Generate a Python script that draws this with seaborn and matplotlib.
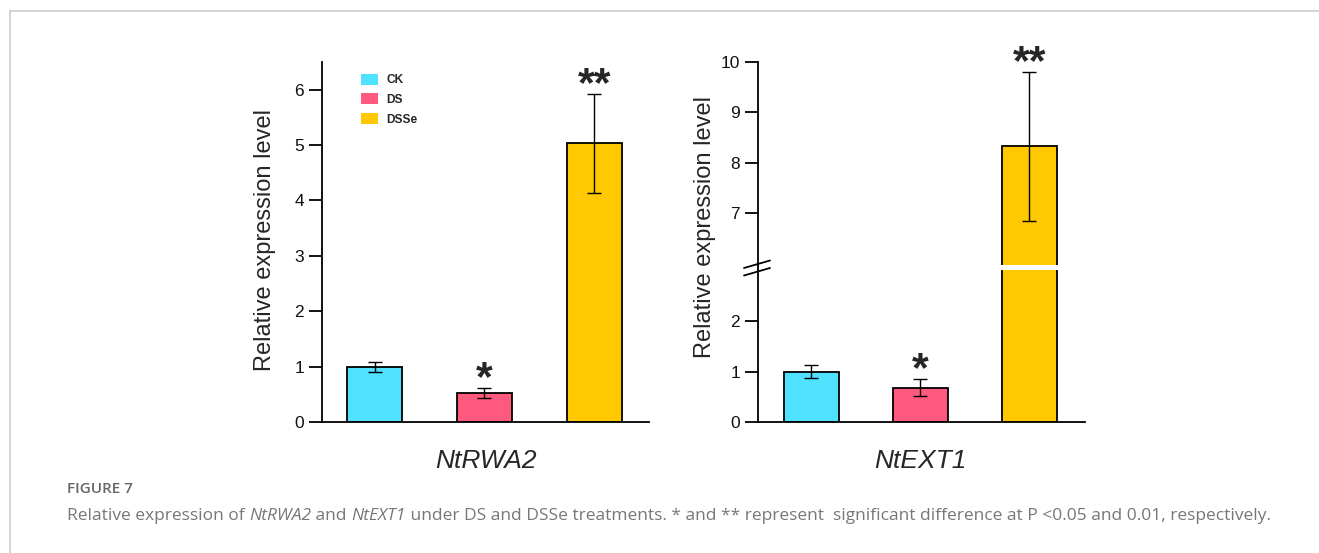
import numpy as np
import pandas as pd
import matplotlib
matplotlib.use("Agg")
import matplotlib.pyplot as plt
import seaborn as sns
from matplotlib.patches import Patch
from matplotlib.lines import Line2D

# Treatments and bar colours
treatments = ["CK", "DS", "DSSe"]
colors = ["#50E1FF", "#FF5A7E", "#FFC800"]

# NtRWA2 relative expression (mean, error)
rwa2_mean = [1.00, 0.52, 5.03]
rwa2_err = [0.09, 0.09, 0.90]
rwa2_marks = ["", "*", "**"]

# NtEXT1 relative expression (mean, error)
ext1_mean = [1.00, 0.68, 8.33]
ext1_err = [0.12, 0.17, 1.48]
ext1_marks = ["", "*", "**"]

genes = ["NtRWA2", "NtEXT1"]
ylabel = "Relative expression level"
fig_label = "FIGURE 7"
# caption pieces: (text, italic?)
caption_parts = [
    ("Relative expression of ", False),
    ("NtRWA2", True),
    (" and ", False),
    ("NtEXT1", True),
    (" under DS and DSSe treatments. * and ** represent  significant difference at "
     "P <0.05 and 0.01, respectively.", False),
]

sns.set_theme(style="white")
plt.rcParams["font.family"] = ["Liberation Sans", "DejaVu Sans"]

W, H = 1319, 553
fig = plt.figure(figsize=(W / 100, H / 100), dpi=100)
renderer = fig.canvas.get_renderer()


def px_rect(x0, y0, x1, y1):
    """Pixel box (top-left origin) -> figure-fraction rectangle."""
    return [x0 / W, 1 - y1 / H, (x1 - x0) / W, (y1 - y0) / H]


SPINE_W = 1.3
TICK_LEN = 9.4


def style_axes(ax, bottom=True):
    ax.set_facecolor("none")
    for side in ["right", "top", "bottom", "left"]:
        ax.spines[side].set_visible(False)
    ax.spines["left"].set_visible(True)
    ax.spines["left"].set_linewidth(SPINE_W)
    ax.spines["left"].set_color("black")
    if bottom:
        ax.spines["bottom"].set_visible(True)
        ax.spines["bottom"].set_linewidth(SPINE_W)
        ax.spines["bottom"].set_color("black")
    ax.set_xticks([])
    ax.set_xlabel("")
    ax.set_ylabel("")
    ax.tick_params(axis="y", direction="out", length=TICK_LEN, width=SPINE_W,
                   color="black", labelsize=12.5, labelcolor="#111111", pad=3.5, left=True)


def draw_bars(ax, means, errs):
    df = pd.DataFrame({"treatment": treatments, "level": means})
    sns.barplot(data=df, x="treatment", y="level", hue="treatment", palette=colors,
                width=0.5, edgecolor="black", linewidth=1.3, saturation=1,
                errorbar=None, legend=False, ax=ax)
    ax.errorbar(range(len(means)), means, yerr=errs, fmt="none", ecolor="black",
                elinewidth=1.0, capsize=4.8, capthick=1.0, zorder=5)


def draw_mark(ax, i, top, s):
    ax.annotate(s, xy=(i, top), xytext=(0, -1.5), textcoords="offset points",
                ha="center", va="baseline", fontsize=31, fontweight="bold",
                annotation_clip=False)


# ---- Left panel: NtRWA2 ----
axL = fig.add_axes(px_rect(322, 62, 649, 422))
draw_bars(axL, rwa2_mean, rwa2_err)
for i, (m, e, s) in enumerate(zip(rwa2_mean, rwa2_err, rwa2_marks)):
    if s:
        draw_mark(axL, i, m + e, s)
style_axes(axL)
axL.set_xlim(-0.48, 2.5)
axL.set_ylim(0, 6.5)
axL.set_yticks(range(0, 7))

handles = [Patch(facecolor=c, edgecolor="none", label=t) for t, c in zip(treatments, colors)]
axL.legend(handles=handles, loc="upper left", bbox_to_anchor=(0.119, 0.967),
           frameon=False, prop={"weight": "bold", "size": 8.6}, handlelength=1.45,
           handleheight=1.0, handletextpad=0.7, labelspacing=0.6, borderpad=0,
           borderaxespad=0)

# ---- Right panel: NtEXT1 with broken y axis ----
axLo = fig.add_axes(px_rect(758, 270, 1085, 422))
axHi = fig.add_axes(px_rect(758, 62, 1085, 265), sharex=axLo)
for ax in (axLo, axHi):
    draw_bars(ax, ext1_mean, ext1_err)
style_axes(axLo)
style_axes(axHi, bottom=False)
axLo.set_xlim(-0.49, 2.51)
axLo.set_ylim(0, 3.01)
axLo.set_yticks([0, 1, 2])
axHi.set_ylim(5.98, 10)
axHi.set_yticks([7, 8, 9, 10])
axHi.tick_params(axis="x", bottom=False, labelbottom=False)
for i, (m, e, s) in enumerate(zip(ext1_mean, ext1_err, ext1_marks)):
    if s:
        target = axLo if m + e <= axLo.get_ylim()[1] else axHi
        draw_mark(target, i, m + e, s)

# spine continuation across the gap and the break marks
fig.add_artist(Line2D([758 / W, 758 / W], [1 - 264 / H, 1 - 271 / H],
                      transform=fig.transFigure, color="black", lw=SPINE_W))
for dy in (0, 7.5):
    fig.add_artist(Line2D([744 / W, 770 / W], [1 - (268 + dy) / H, 1 - (260.5 + dy) / H],
                          transform=fig.transFigure, color="black", lw=1.3))

# ---- Axis titles ----
fig.text(265 / W, 1 - 240 / H, ylabel, rotation=90, ha="center", va="center", fontsize=17)
fig.text(705 / W, 1 - 227 / H, ylabel, rotation=90, ha="center", va="center", fontsize=17)
fig.text(486 / W, 1 - 461 / H, genes[0], ha="center", va="center", fontsize=19, style="italic")
fig.text(920 / W, 1 - 461 / H, genes[1], ha="center", va="center", fontsize=19, style="italic")

# ---- Caption and frame ----
cap_font = ["Open Sans", "DejaVu Sans"]
fig.text(67 / W, 1 - 489 / H, fig_label, ha="left", va="center", fontsize=11,
         fontweight="semibold", color="#666666", family=cap_font)


def text_advance(s, **kw):
    """Width in pixels of s, including leading/trailing spaces."""
    a = fig.text(0, 0, "x" + s + "x", **kw)
    b = fig.text(0, 0, "xx", **kw)
    w = a.get_window_extent(renderer).width - b.get_window_extent(renderer).width
    a.remove()
    b.remove()
    return w


x = 67.0
for s, ital in caption_parts:
    kw = dict(fontsize=12.5, color="#777777", family=cap_font,
              style="italic" if ital else "normal")
    fig.text(x / W, 1 - 516 / H, s, ha="left", va="center", **kw)
    x += text_advance(s, **kw)

fig.add_artist(Line2D([10 / W, 1], [1 - 11 / H, 1 - 11 / H], transform=fig.transFigure,
                      color="#cccccc", lw=1.2))
fig.add_artist(Line2D([10 / W, 10 / W], [0, 1 - 11 / H], transform=fig.transFigure,
                      color="#cccccc", lw=1.2))

fig.savefig("out.png", dpi=100)
